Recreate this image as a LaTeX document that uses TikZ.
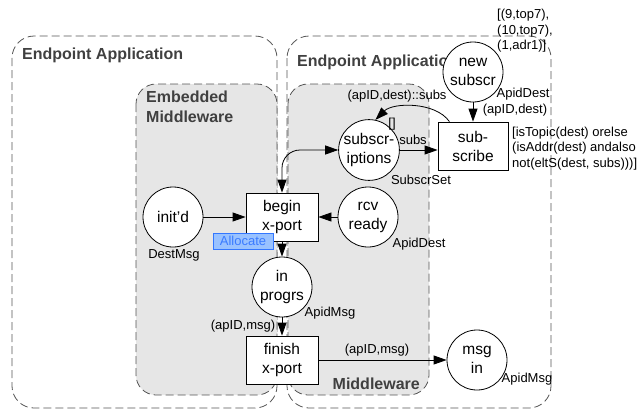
\documentclass[tikz,border=0pt]{standalone}
\usepackage{fontspec}
\setmainfont{Liberation Sans}
\usetikzlibrary{arrows.meta,calc}
\definecolor{boxgray}{HTML}{E6E6E6}
\definecolor{dashgray}{HTML}{555555}
\definecolor{titlegray}{HTML}{404040}
\definecolor{allocfill}{HTML}{99C2FF}
\definecolor{allocline}{HTML}{3377FF}
\definecolor{alloctext}{HTML}{3A7BFF}
\begin{document}
\begin{tikzpicture}[x=1pt,y=1pt,
  region/.style={draw=dashgray, dash pattern=on 8pt off 4pt, line width=0.8pt, rounded corners=22pt},
  place/.style={circle, draw, fill=white, minimum size=60pt, inner sep=0pt, align=center, font=\fontsize{15.5}{19}\selectfont, line width=0.8pt},
  trans/.style={rectangle, draw, fill=white, minimum width=72pt, minimum height=48pt, inner sep=0pt, align=center, font=\fontsize{15.5}{19}\selectfont, line width=0.8pt},
  lbl/.style={font=\fontsize{13}{15.5}\selectfont, inner sep=0pt},
  title/.style={font=\fontsize{16}{20}\selectfont\bfseries, text=titlegray, inner sep=0pt, align=left},
  arc/.style={-{Triangle[length=13pt,width=9pt]}, line width=0.8pt},
  biarc/.style={{Triangle[length=13pt,width=9pt]}-{Triangle[length=13pt,width=9pt]}, line width=0.8pt},
]
\useasboundingbox (0,0) rectangle (642,-410);

% regions
\draw[region] (12,-36) rectangle (277,-408);
\draw[region] (287,-36) rectangle (551,-408);
\draw[region, fill=boxgray, rounded corners=20pt] (136,-84) rectangle (277,-395);
\draw[region, fill=boxgray, rounded corners=20pt] (288,-84) rectangle (429,-395);

% region titles
\node[title, anchor=west] (t1) at (22,-55) {Endpoint Application};
\node[title, anchor=west] (t2) at (297,-62) {Endpoint Application};
\node[title, anchor=north west] (t3) at (146,-91) {Embedded\\Middleware};
\node[title, anchor=east] (t4) at (420,-384) {Middleware};

% places and transitions
\node[place] (initd) at (173,-217) {init\char39 d};
\node[trans] (begin) at (282,-217) {begin\\x-port};
\node[place] (rcv) at (368,-217) {rcv\\ready};
\node[place] (inprog) at (282,-287) {in\\progrs};
\node[trans] (finish) at (282,-360) {finish\\x-port};
\node[place] (msgin) at (477,-360) {msg\\in};
\node[place] (subs) at (369,-150) {subscr-\\iptions};
\node[trans, minimum width=70pt] (subscribe) at (473,-146) {sub-\\scribe};
\node[place] (newsub) at (473,-72) {new\\subscr};

% allocate tag
\node[draw=allocline, fill=allocfill, text=alloctext, font=\fontsize{13}{15}\selectfont,
      minimum width=60pt, minimum height=16pt, inner sep=1pt, line width=0.8pt] (alloc) at (243,-241) {Allocate};

% arcs
\draw[arc] (initd) -- (begin);
\draw[arc] (rcv) -- (begin);
\draw[arc] (begin) -- (inprog);
\draw[arc] (inprog) -- (finish);
\draw[arc] (finish.east |- msgin.west) -- (msgin.west);
\draw[arc] (newsub) -- (subscribe);
\draw[arc] (subs.east) -- (subs.east -| subscribe.west);
\draw[arc] (subscribe.134) to[out=125, in=45, looseness=0.85] (subs.78);
\draw[biarc, rounded corners=18pt] (begin.north) |- (subs.west);

% inscriptions
\node[lbl] (l1) at (174,-255) {DestMsg};
\node[lbl] (l2) at (419,-244) {ApidDest};
\node[lbl] (l3) at (330,-313) {ApidMsg};
\node[lbl] (l4) at (243,-326) {(apID,msg)};
\node[lbl] (l5) at (377,-350) {(apID,msg)};
\node[lbl] (l6) at (527,-379) {ApidMsg};
\node[lbl] (l7) at (421,-180) {SubscrSet};
\node[lbl] (l8) at (392,-124) {[]};
\node[lbl] (l9) at (413,-140) {subs};
\node[lbl] (l10) at (397,-96) {(apID,dest)::subs};
\node[lbl] (l11) at (523,-94) {ApidDest};
\node[lbl] (l12) at (515,-110) {(apID,dest)};
\node[lbl, anchor=north west, align=left] (l13) at (497,-9) {[(9,top7),\\(10,top7),\\(1,adr1)]};
\node[lbl, anchor=north west, align=left] (l14) at (512,-126.5) {[isTopic(dest) orelse\\(isAddr(dest) andalso\\not(eltS(dest, subs)))]};
\end{tikzpicture}
\end{document}
